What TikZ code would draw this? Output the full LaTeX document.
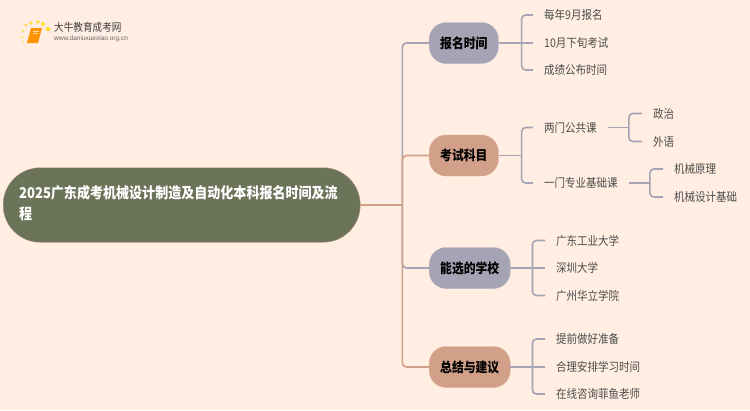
\documentclass[tikz,border=0pt]{standalone}
\usepackage{fontspec}
\setmainfont[FakeStretch=0.875]{Noto Sans CJK SC}
\newfontfamily\urlfont{Liberation Sans}
\definecolor{bgcol}{HTML}{FFEEE1}
\definecolor{rootcol}{HTML}{6B7359}
\definecolor{bluecol}{HTML}{A5A4B5}
\definecolor{salmcol}{HTML}{D2A088}
\definecolor{leafcol}{HTML}{4C4C4C}
\tikzset{
  rootbox/.style={draw=salmcol!60!rootcol,fill=rootcol,rounded corners=37pt,minimum width=357pt,minimum height=74.5pt,
    anchor=west,inner xsep=16pt,inner ysep=0pt,text width=325pt,align=left,text=white,font=\fontsize{14.9}{21}\selectfont\bfseries},
  bluebox/.style={draw=bluecol!85!white,fill=bluecol,rounded corners=17pt,minimum height=41pt,inner xsep=11pt,inner ysep=0pt,
    anchor=west,text=black,font=\fontsize{13.5}{16}\selectfont\bfseries},
  salmbox/.style={bluebox,draw=salmcol!85!white,fill=salmcol},
  leaf/.style={anchor=west,inner xsep=11pt,inner ysep=1pt,text=leafcol,font=\fontsize{12}{14}\selectfont},
  blueline/.style={draw=bluecol,line width=1.6pt,rounded corners=4pt},
  salmline/.style={draw=salmcol,line width=1.6pt,rounded corners=4pt}
}
\begin{document}
\begin{tikzpicture}[x=1pt,y=-1pt]
    \useasboundingbox (0,0) rectangle (750,410);
    \fill[bgcol] (0,0) rectangle (750,410);
    % logo
    \foreach \dotx/\doty/\dotr in {22/37/1, 23/42/0.8, 23/31/1.2, 26/25/1.5, 31/23/1.8, 38/22/1.8, 43/24/2, 48/29/2.3}
      \fill[yellow!75!orange,opacity=0.8] (\dotx,\doty) circle (\dotr);
    \fill[orange!85!yellow] (31,28) -- (42,28) -- (38,43) -- (27,43) -- cycle;
    \draw[white!70!orange,line width=0.6pt] (33,31) -- (39,31);
    \draw[white!70!orange,line width=0.6pt] (32.5,33.5) -- (38,33.5);
    \draw[black!6,line width=0.5pt] (54,33.5) -- (130,33.5);
    \node[anchor=west,inner sep=0pt,text=black!75,font=\fontsize{11}{11}\selectfont] (logotext) at (54,27) {大牛教育成考网};
    \node[anchor=west,inner sep=0pt,text=black!60,font=\urlfont\fontsize{6.5}{6}\selectfont] (logourl) at (54,39) {www.daniuxuexiao.org.cn};
    % main nodes
    \node[rootbox] (root) at (3,205) {2025广东成考机械设计制造及自动化本科报名时间及流\\程\par\vspace{3pt}};
    \node[bluebox] (baoming) at (429,43) {报名时间};
    \node[salmbox] (kaoshi) at (429,155.5) {考试科目};
    \node[bluebox] (xuexiao) at (429,268) {能选的学校};
    \node[salmbox] (zongjie) at (429,367) {总结与建议};
    % first branch
    \node[leaf] (bm1) at (533,15) {每年9月报名};
    \node[leaf] (bm2) at (533,43) {10月下旬考试};
    \node[leaf] (bm3) at (533,70) {成绩公布时间};
    % second branch
    \node[leaf] (ks1) at (533,127.5) {两门公共课};
    \node[leaf] (ks2) at (533,183) {一门专业基础课};
    \node[leaf] (gg1) at (642,113.5) {政治};
    \node[leaf] (gg2) at (642,141.5) {外语};
    \node[leaf] (jc1) at (663,169) {机械原理};
    \node[leaf] (jc2) at (663,197) {机械设计基础};
    % third branch
    \node[leaf] (xx1) at (545,240.5) {广东工业大学};
    \node[leaf] (xx2) at (545,268) {深圳大学};
    \node[leaf] (xx3) at (545,295.5) {广州华立学院};
    % fourth branch
    \node[leaf] (zj1) at (545,339) {提前做好准备};
    \node[leaf] (zj2) at (545,367) {合理安排学习时间};
    \node[leaf] (zj3) at (545,394) {在线咨询菲鱼老师};
    % connectors from the root
    \draw[blueline] (root.east) ++(42,0) |- (baoming.west);
    \draw[blueline] (root.east) ++(42,0) |- (xuexiao.west);
    \draw[salmline] (root.east) ++(42,0) |- (kaoshi.west);
    \draw[salmline] (root.east) ++(42,0) |- (zongjie.west);
    \draw[salmline] (root.east) -- ++(42,0);
    % connectors to the leaves
    \draw[blueline] (baoming.east) ++(23,0) |- (bm1.west);
    \draw[blueline] (baoming.east) -- (bm2.west);
    \draw[blueline] (baoming.east) ++(23,0) |- (bm3.west);
    \draw[blueline] (kaoshi.east) ++(23,0) |- (ks1.west);
    \draw[blueline] (kaoshi.east) ++(23,0) |- (ks2.west);
    \draw[blueline] (kaoshi.east) -- ++(23,0);
    \draw[blueline] (ks1.east) ++(21,0) |- (gg1.west);
    \draw[blueline] (ks1.east) ++(21,0) |- (gg2.west);
    \draw[blueline] (ks1.east) -- ++(21,0);
    \draw[blueline] (ks2.east) ++(21,0) |- (jc1.west);
    \draw[blueline] (ks2.east) ++(21,0) |- (jc2.west);
    \draw[blueline] (ks2.east) -- ++(21,0);
    \draw[blueline] (xuexiao.east) ++(22,0) |- (xx1.west);
    \draw[blueline] (xuexiao.east) -- (xx2.west);
    \draw[blueline] (xuexiao.east) ++(22,0) |- (xx3.west);
    \draw[blueline] (zongjie.east) ++(22,0) |- (zj1.west);
    \draw[blueline] (zongjie.east) -- (zj2.west);
    \draw[blueline] (zongjie.east) ++(22,0) |- (zj3.west);
\end{tikzpicture}
\end{document}
